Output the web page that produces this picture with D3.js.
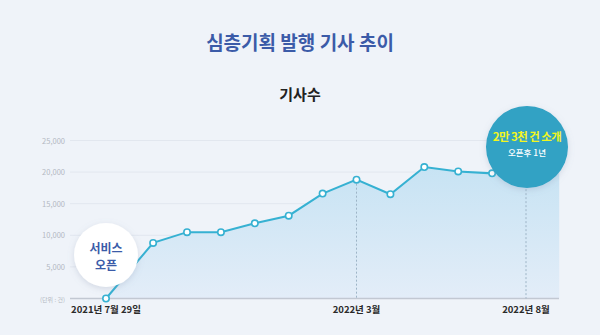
<!DOCTYPE html>
<html><head><meta charset="utf-8">
<script src="https://cdn.jsdelivr.net/npm/d3@7"></script>
<style>
html,body{margin:0;padding:0;background:#eff3f9;}
svg{display:block;font-family:"Noto Sans CJK KR","Noto Sans",sans-serif;}
</style></head>
<body><svg id="c" width="600" height="335"></svg>
<script>
// month offsets from 2021-07 (first point: service open, 2021-07-29)
const monthPos = [0, 1.39, 2.39, 3.39, 4.39, 5.39, 6.39, 7.39, 8.39, 9.39, 10.39, 11.39, 12.39, 13.37];
const articles = [0, 8800, 10500, 10500, 11900, 13100, 16600, 18800, 16500, 20800, 20100, 19800, 23000, 23000];
const yTicks = [5000, 10000, 15000, 20000, 25000];
const xLabelIdx = [0, 7, 12];
const xLabels = ["2021년 7월 29일", "2022년 3월", "2022년 8월"];
const title = "심층기획 발행 기사 추이";
const subtitle = "기사수";
const unitLabel = "(단위 : 건)";

const svg = d3.select("#c");
const x = d3.scaleLinear().domain([0, 12.39]).range([106, 526]);
const y = d3.scaleLinear().domain([0, 25000]).range([298.5, 140.5]);
const L = 70, R = 559;

const defs = svg.append("defs");
const g = defs.append("linearGradient").attr("id","ag").attr("x1",0).attr("y1",0).attr("x2",0).attr("y2",1);
g.append("stop").attr("offset","0%").attr("stop-color","#c4e2f3");
g.append("stop").attr("offset","100%").attr("stop-color","#e3edf8");
const f = defs.append("filter").attr("id","sh").attr("x","-30%").attr("y","-30%").attr("width","160%").attr("height","160%");
f.append("feDropShadow").attr("dx",0).attr("dy",2).attr("stdDeviation",3).attr("flood-color","#7a8aa6").attr("flood-opacity",0.25);

svg.append("text").attr("x",300).attr("y",50).attr("text-anchor","middle")
  .attr("font-size",19).attr("font-weight",700).attr("fill","#3b5ba8").text(title);
svg.append("text").attr("x",300).attr("y",100).attr("text-anchor","middle")
  .attr("font-size",15).attr("font-weight",700).attr("fill","#222").text(subtitle);

// gridlines
svg.append("g").selectAll("line").data(yTicks).join("line")
  .attr("x1",L).attr("x2",R).attr("y1",d=>y(d)).attr("y2",d=>y(d))
  .attr("stroke","#e2e7ef").attr("stroke-width",1);
svg.append("g").selectAll("text").data(yTicks).join("text")
  .attr("x",65).attr("y",d=>y(d)+3).attr("text-anchor","end")
  .attr("font-size",7.5).attr("fill","#b3b8c2").text(d=>d3.format(",")(d));
svg.append("text").attr("x",65).attr("y",y(0)+3).attr("text-anchor","end")
  .attr("font-size",6).attr("fill","#b3b8c2").text(unitLabel);

const pts = monthPos.map((m,i)=>({x:x(m), y:y(articles[i])}));
const area = d3.area().x(d=>d.x).y0(y(0)).y1(d=>d.y);
svg.append("path").datum(pts).attr("d",area).attr("fill","url(#ag)");

// baseline
svg.append("line").attr("x1",L).attr("x2",R).attr("y1",y(0)).attr("y2",y(0))
  .attr("stroke","#c2c8d2").attr("stroke-width",1.5);

// dotted verticals
svg.append("g").selectAll("line").data([7,12]).join("line")
  .attr("x1",i=>pts[i].x).attr("x2",i=>pts[i].x).attr("y1",i=>pts[i].y).attr("y2",y(0))
  .attr("stroke","#9db4c6").attr("stroke-width",1).attr("stroke-dasharray","2,2");

const line = d3.line().x(d=>d.x).y(d=>d.y);
svg.append("path").datum(pts).attr("d",line).attr("fill","none")
  .attr("stroke","#36b1d2").attr("stroke-width",2);
svg.append("g").selectAll("circle").data(pts.slice(0,12)).join("circle")
  .attr("cx",d=>d.x).attr("cy",d=>d.y).attr("r",3.2)
  .attr("fill","#fff").attr("stroke","#36b1d2").attr("stroke-width",1.6);

// x labels
svg.append("g").selectAll("text").data(xLabelIdx).join("text")
  .attr("x",(d,i)=>x(monthPos[d])).attr("y",313).attr("text-anchor","middle")
  .attr("font-size",9.5).attr("font-weight",700).attr("fill","#2a2a2a")
  .text((d,i)=>xLabels[i]);

// service open bubble
svg.append("circle").attr("cx",106).attr("cy",255).attr("r",32).attr("fill","#fff").attr("filter","url(#sh)");
svg.append("text").attr("x",106).attr("y",253).attr("text-anchor","middle")
  .attr("font-size",12).attr("font-weight",700).attr("fill","#3b5ba8").text("서비스");
svg.append("text").attr("x",106).attr("y",270).attr("text-anchor","middle")
  .attr("font-size",12).attr("font-weight",700).attr("fill","#3b5ba8").text("오픈");

// milestone bubble
svg.append("circle").attr("cx",527).attr("cy",147).attr("r",41).attr("fill","#30a2c4").attr("filter","url(#sh)");
svg.append("text").attr("x",527).attr("y",141).attr("text-anchor","middle")
  .attr("font-size",11.5).attr("font-weight",700).attr("fill","#f2f51e").attr("letter-spacing",-0.6).text("2만 3천 건 소개");
svg.append("text").attr("x",527).attr("y",156).attr("text-anchor","middle")
  .attr("font-size",8.5).attr("font-weight",500).attr("fill","#fff").text("오픈후 1년");
</script></body></html>
